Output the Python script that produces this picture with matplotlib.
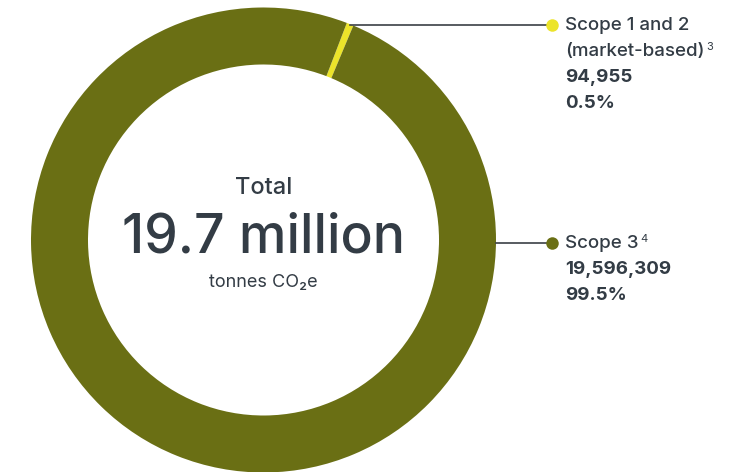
import matplotlib.pyplot as plt
import numpy as np

# data
labels = ['Scope 1 and 2\n(market-based)', 'Scope 3']
footnotes = ['3', '4']
values = [94955, 19596309]
value_text = ['94,955', '19,596,309']
pct_text = ['0.5%', '99.5%']
colors = ['#ece42a', '#6a6f14']

total_text = '19.7 million'

plt.rcParams['font.family'] = ['Inter', 'DejaVu Sans']
txt = '#333c45'

W, H = 743, 472
fig = plt.figure(figsize=(W / 100, H / 100), dpi=100)
ax = fig.add_axes([0, 0, 1, 1])

# pixel coords, y up
cx, cy = 263.5, H - 240
R = 232.5
ring = 57

wedges, _ = ax.pie(values, colors=colors, startangle=69, counterclock=False,
                   center=(cx, cy), radius=R,
                   wedgeprops=dict(width=ring, linewidth=0))
ax.set_xlim(0, W)
ax.set_ylim(0, H)
ax.set_aspect('equal')
ax.axis('off')

# centre text
ax.text(cx, H - 188, 'Total', ha='center', va='center', fontsize=17,
        fontweight='medium', color=txt)
ax.text(cx, H - 238, total_text, ha='center', va='center', fontsize=38.5,
        fontweight='medium', color=txt)
ax.text(cx, H - 282, 'tonnes CO₂e', ha='center', va='center', fontsize=13,
        color=txt)

# leader lines + labels
label_x = 565
dot_x = 552
first_y = [H - 25, H - 243]
for i, w in enumerate(wedges):
    if i == 0:
        ang = np.deg2rad((w.theta1 + w.theta2) / 2)
        x0 = cx + R * np.cos(ang)
        y0 = first_y[i]
    else:
        x0 = cx + R
        y0 = first_y[i]
    ax.plot([x0, dot_x], [y0, y0], color='#3b4046', lw=1.2, zorder=1)
    ax.plot(dot_x, y0, 'o', ms=9, color=colors[i], mec='none', zorder=3)

    lines = labels[i].split('\n')
    y = y0
    t = None
    for ln in lines:
        t = ax.text(label_x, y, ln, ha='left', va='center', fontsize=13.5,
                    fontweight='medium', color=txt)
        y -= 26
    ax.annotate(footnotes[i], xy=(1, 1), xycoords=t, xytext=(1.5, 0),
                textcoords='offset points', ha='left', va='top',
                fontsize=8, color=txt)
    ax.text(label_x, y, value_text[i], ha='left', va='center', fontsize=13.5,
            fontweight='bold', color=txt)
    y -= 27
    ax.text(label_x, y, pct_text[i], ha='left', va='center', fontsize=13.5,
            fontweight='bold', color=txt)

fig.savefig('out.png', dpi=100)
